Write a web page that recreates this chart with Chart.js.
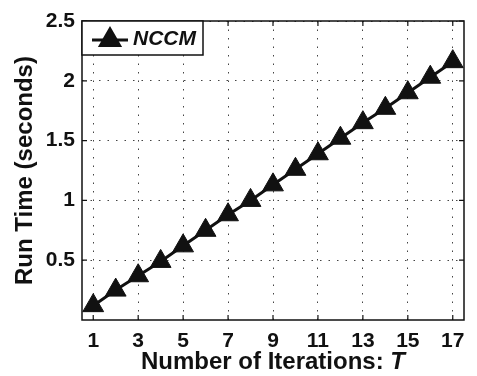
<!DOCTYPE html>
<html>
<head>
<meta charset="utf-8">
<script src="https://cdn.jsdelivr.net/npm/chart.js@4/dist/chart.umd.min.js"></script>
<style>
  body { margin: 0; background: #fff; }
  canvas { display: block; }
</style>
</head>
<body>
<canvas id="myChart" width="477" height="376"></canvas>
<script>
const iterations = [1, 2, 3, 4, 5, 6, 7, 8, 9, 10, 11, 12, 13, 14, 15, 16, 17]
const runTime = [0.12, 0.25, 0.37, 0.49, 0.62, 0.75, 0.88, 1.00, 1.13, 1.26, 1.39, 1.52, 1.65, 1.77, 1.90, 2.03, 2.16]
const xTicks = [1, 3, 5, 7, 9, 11, 13, 15, 17]
const yTicks = [0.5, 1, 1.5, 2, 2.5]
const seriesName = "NCCM"

const FONT = "'Liberation Sans', Arial, sans-serif"

// frame, inward ticks, legend box and axis titles (MATLAB look)
const matlabBits = {
    id: 'matlabBits',
    afterDraw(chart) {
        const ctx = chart.ctx
        const a = chart.chartArea
        const xs = chart.scales.x
        const ys = chart.scales.y
        ctx.save()
        ctx.strokeStyle = '#111'
        ctx.lineWidth = 1.5
        ctx.strokeRect(a.left, a.top, a.right - a.left, a.bottom - a.top)

        ctx.lineWidth = 1.2
        ctx.beginPath()
        xTicks.forEach(v => {
            const px = xs.getPixelForValue(v)
            ctx.moveTo(px, a.bottom); ctx.lineTo(px, a.bottom - 5)
            ctx.moveTo(px, a.top); ctx.lineTo(px, a.top + 5)
        })
        yTicks.forEach(v => {
            const py = ys.getPixelForValue(v)
            ctx.moveTo(a.left, py); ctx.lineTo(a.left + 5, py)
            ctx.moveTo(a.right, py); ctx.lineTo(a.right - 5, py)
        })
        ctx.stroke()

        // legend
        const lx = a.left, ly = a.top
        ctx.fillStyle = '#fff'
        ctx.fillRect(lx, ly, 121, 34)
        ctx.lineWidth = 1.5
        ctx.strokeRect(lx, ly, 121, 34)
        ctx.lineWidth = 3
        ctx.beginPath()
        ctx.moveTo(lx + 10, ly + 19); ctx.lineTo(lx + 46, ly + 19)
        ctx.stroke()
        Chart.helpers.drawPoint(ctx, {pointStyle: 'triangle', radius: 11, borderWidth: 1}, lx + 28, ly + 19)
        ctx.fillStyle = '#111'
        ctx.fill()
        ctx.font = "italic bold 21px " + FONT
        ctx.textBaseline = 'middle'
        ctx.textAlign = 'left'
        ctx.fillText(seriesName, lx + 51, ly + 18)

        // x title with italic T
        ctx.font = "bold 24px " + FONT
        const part1 = "Number of Iterations: "
        const w1 = ctx.measureText(part1).width
        ctx.font = "italic bold 24px " + FONT
        const w2 = ctx.measureText("T").width
        const cx = (a.left + a.right) / 2
        let sx = cx - (w1 + w2) / 2
        ctx.textBaseline = 'alphabetic'
        ctx.font = "bold 24px " + FONT
        ctx.fillText(part1, sx, 369)
        ctx.font = "italic bold 24px " + FONT
        ctx.fillText("T", sx + w1, 369)

        // y title
        ctx.translate(25, (a.top + a.bottom) / 2)
        ctx.rotate(-Math.PI / 2)
        ctx.font = "bold 24px " + FONT
        ctx.textAlign = 'center'
        ctx.textBaseline = 'middle'
        ctx.fillText("Run Time (seconds)", 0, 0)
        ctx.restore()
    }
}

const data = {
    datasets: [{
        label: seriesName,
        data: iterations.map((v, i) => ({x: v, y: runTime[i]})),
        borderColor: '#111',
        borderWidth: 3,
        backgroundColor: '#111',
        pointStyle: 'triangle',
        pointRadius: 12,
        pointHoverRadius: 12,
        pointBorderWidth: 1,
        clip: false
    }]
}

const config = {
    type: 'line',
    data: data,
    options: {
        responsive: false,
        animation: false,
        layout: {padding: {top: 21, right: 3, left: 0, bottom: 0}},
        plugins: {legend: {display: false}, tooltip: {enabled: false}},
        scales: {
            x: {
                type: 'linear',
                min: 0.5,
                max: 17.5,
                afterBuildTicks: s => { s.ticks = xTicks.map(v => ({value: v})) },
                afterFit: s => { s.height = 56 },
                grid: {color: '#444', lineWidth: 1, drawTicks: false},
                border: {display: false, dash: [1.5, 7]},
                ticks: {color: '#111', font: {family: FONT, size: 21, weight: 'bold'}, padding: 9, maxRotation: 0}
            },
            y: {
                min: 0,
                max: 2.5,
                afterBuildTicks: s => { s.ticks = yTicks.map(v => ({value: v})) },
                afterFit: s => { s.width = 82 },
                grid: {color: '#444', lineWidth: 1, drawTicks: false},
                border: {display: false, dash: [1.5, 7]},
                ticks: {
                    color: '#111',
                    font: {family: FONT, size: 21, weight: 'bold'},
                    padding: 7,
                    callback: v => String(v)
                }
            }
        }
    },
    plugins: [matlabBits]
}

const myChart = new Chart(document.getElementById("myChart"), config)
</script>
</body>
</html>
